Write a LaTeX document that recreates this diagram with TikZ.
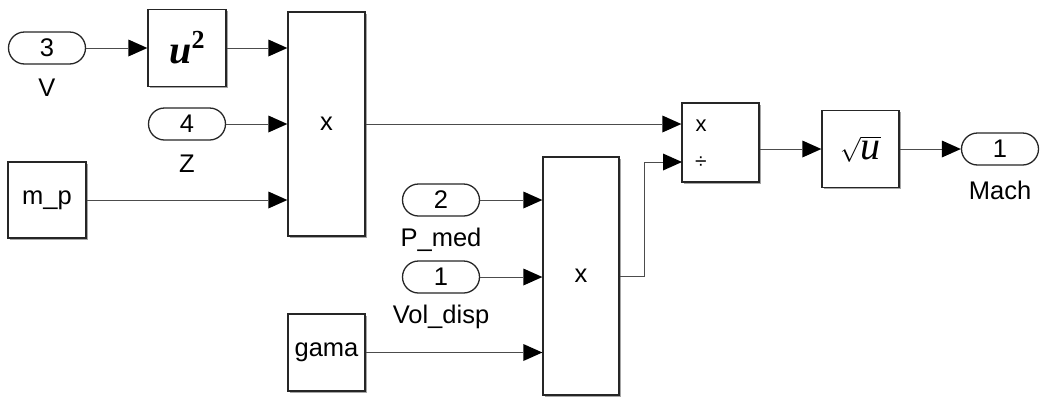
\documentclass[tikz,border=0pt]{standalone}
\usepackage{fontspec}
\setmainfont{Liberation Sans}
\newfontfamily\serifit{Liberation Serif}
\usetikzlibrary{arrows.meta,shadows}
\begin{document}
\begin{tikzpicture}[x=1pt,y=-1pt,
  blk/.style={draw=black!85,line width=1.3pt,fill=white,inner sep=0pt,
    font=\fontsize{25.5}{28}\selectfont,
    drop shadow={shadow xshift=1.6pt,shadow yshift=-1.6pt,opacity=0.35,fill=black}},
  port/.style={draw=black!85,line width=1.3pt,fill=white,rounded corners=16pt,
    minimum width=77pt,minimum height=32pt,inner sep=0pt,
    font=\fontsize{25.5}{28}\selectfont},
  lbl/.style={inner sep=0pt,font=\fontsize{25.5}{28}\selectfont},
  conn/.style={draw=black!70,line width=1pt,-{Triangle[length=19pt,width=17pt,fill=black,line width=0pt]}}]
\useasboundingbox (0,0) rectangle (1041,397);

% blocks
\node[port] (in3) at (47,48) {3};
\node[lbl] (lV) at (47,88) {V};
\node[blk,minimum width=78pt,minimum height=77pt] (sq) at (187,48)
  {{\serifit\fontsize{40}{40}\selectfont\bfseries\itshape u}\raisebox{15pt}{\serifit\fontsize{26}{26}\selectfont\bfseries 2}};
\node[port] (in4) at (187,124) {4};
\node[lbl] (lZ) at (187,164) {Z};
\node[blk,minimum width=78pt,minimum height=76pt] (mp) at (47,200) {m\_p};
\node[blk,minimum width=77pt,minimum height=224pt] (prod1) at (326.5,124) {x};

\node[port] (in2) at (441,200) {2};
\node[lbl] (lP) at (441,240) {P\_med};
\node[port] (in1) at (441,277) {1};
\node[lbl] (lVol) at (441,317) {Vol\_disp};
\node[blk,minimum width=77pt,minimum height=77pt] (gama) at (326.5,352.5) {gama};
\node[blk,minimum width=76pt,minimum height=238pt] (prod2) at (581,276) {x};

\node[blk,minimum width=77pt,minimum height=79pt] (div) at (720.5,142.5) {};
\node[lbl,font=\fontsize{22}{24}\selectfont] (dx) at (701,126) {x};
\node[lbl,font=\fontsize{21}{24}\selectfont] (dd) at (701,163) {÷};

\node[blk,minimum width=77pt,minimum height=77pt] (sqrt) at (860.5,149)
  {\fontsize{38}{40}\selectfont$\sqrt{\hbox{\serifit\fontsize{40}{40}\selectfont\itshape u}}$};
\node[port] (out1) at (1000,149) {1};
\node[lbl] (lM) at (1000,190) {Mach};

% connectors
\coordinate (j) at (644,276);
\coordinate (d2) at (682,162);
\draw[conn] (in3.east) -- (sq.west);
\draw[conn] (sq.east) -- (sq.east -| prod1.west);
\draw[conn] (in4.east) -- (in4.east -| prod1.west);
\draw[conn] (mp.east) -- (mp.east -| prod1.west);
\draw[conn] (prod1.east) -- (prod1.east -| div.west);
\draw[conn] (in2.east) -- (in2.east -| prod2.west);
\draw[conn] (in1.east) -- (in1.east -| prod2.west);
\draw[conn] (gama.east) -- (gama.east -| prod2.west);
\draw[conn] (prod2.east) -- (j) |- (d2);
\draw[conn] (div.east |- sqrt.west) -- (sqrt.west);
\draw[conn] (sqrt.east) -- (out1.west);
\end{tikzpicture}
\end{document}
